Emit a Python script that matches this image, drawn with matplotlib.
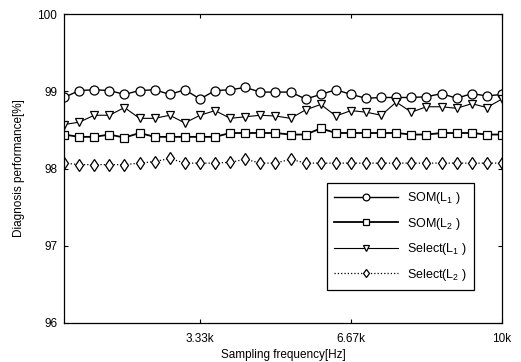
import matplotlib
matplotlib.use('Agg')
import matplotlib.pyplot as plt
import numpy as np

plt.rcParams['font.family'] = 'Liberation Sans'
plt.rcParams['mathtext.fontset'] = 'custom'
plt.rcParams['mathtext.rm'] = 'Liberation Sans'
plt.rcParams['mathtext.it'] = 'Liberation Sans'
plt.rcParams['font.size'] = 8.5

# sampling frequency points (Hz): 30 steps of 10k/30
freq = np.arange(1, 31) * 10000 / 30

som_l1 = [98.92, 99.01, 99.02, 99.01, 98.96, 99.01, 99.02, 98.96, 99.02, 98.90,
          99.01, 99.02, 99.05, 98.99, 98.99, 98.99, 98.90, 98.96, 99.02, 98.96,
          98.91, 98.92, 98.92, 98.92, 98.93, 98.97, 98.91, 98.97, 98.94, 98.96]
som_l2 = [98.44, 98.41, 98.41, 98.44, 98.40, 98.46, 98.41, 98.41, 98.41, 98.41,
          98.41, 98.46, 98.46, 98.46, 98.46, 98.44, 98.44, 98.52, 98.46, 98.46,
          98.46, 98.46, 98.46, 98.44, 98.44, 98.46, 98.46, 98.46, 98.44, 98.44]
sel_l1 = [98.57, 98.60, 98.69, 98.69, 98.79, 98.65, 98.65, 98.69, 98.59, 98.69,
          98.75, 98.65, 98.67, 98.69, 98.68, 98.65, 98.76, 98.83, 98.68, 98.75,
          98.73, 98.69, 98.86, 98.73, 98.80, 98.80, 98.78, 98.84, 98.79, 98.90]
sel_l2 = [98.07, 98.05, 98.05, 98.05, 98.05, 98.07, 98.09, 98.13, 98.07, 98.07,
          98.07, 98.08, 98.12, 98.07, 98.07, 98.12, 98.07, 98.07, 98.07, 98.07,
          98.07, 98.07, 98.07, 98.07, 98.07, 98.07, 98.07, 98.07, 98.07, 98.07]

labels = ['SOM(L$_1$ )', 'SOM(L$_2$ )', 'Select(L$_1$ )', 'Select(L$_2$ )']
xticks = [10000 / 3, 20000 / 3, 10000]
xticklabels = ['3.33k', '6.67k', '10k']
yticks = [96, 97, 98, 99, 100]

fig = plt.figure(figsize=(5.21, 3.62), dpi=100)
ax = fig.add_axes([0.123, 0.108, 0.8405, 0.853])

mk = dict(markerfacecolor='white', markeredgecolor='black', markeredgewidth=0.9)
ax.plot(freq, som_l1, '-', color='black', lw=1.0, marker='o', markersize=6.5, label=labels[0], **mk)
ax.plot(freq, som_l2, '-', color='black', lw=1.3, marker='s', markersize=6, label=labels[1], **mk)
ax.plot(freq, sel_l1, '-', color='black', lw=0.8, marker='v', markersize=6, label=labels[2], **mk)
ax.plot(freq, sel_l2, ':', color='black', lw=0.9, marker='d', markersize=6, label=labels[3], **mk)

ax.set_xlim(freq[0], 10000)
ax.set_ylim(96, 100)
ax.set_xticks(xticks)
ax.set_xticklabels(xticklabels)
ax.set_yticks(yticks)
ax.tick_params(direction='in', top=True, right=True, length=3, width=0.8, pad=7)
ax.tick_params(axis='y', pad=5)
for s in ax.spines.values():
    s.set_linewidth(0.9)

ax.set_xlabel('Sampling frequency[Hz]', labelpad=3)
ax.set_ylabel('Diagnosis performance[%]', labelpad=9)

leg = ax.legend(loc='lower right', bbox_to_anchor=(0.951, 0.086), frameon=True, fancybox=False,
                edgecolor='black', framealpha=1, handlelength=5.1, borderpad=0.6,
                labelspacing=0.75, handletextpad=0.7, fontsize=9, markerscale=0.75)
leg.get_frame().set_linewidth(0.9)

fig.savefig('out.png', dpi=100)
